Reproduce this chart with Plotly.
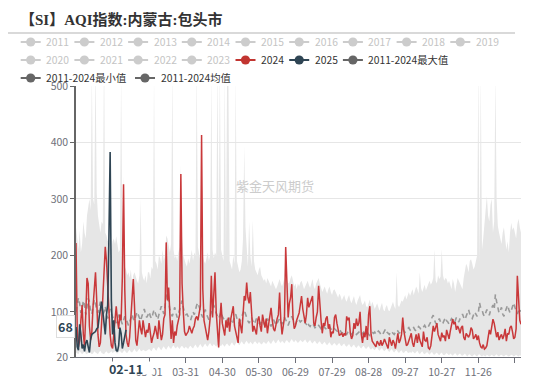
import plotly.graph_objects as go
import pandas as pd

# ---------------- data ----------------
days = pd.date_range("2024-01-01", "2024-12-31", freq="D").strftime("%m-%d").tolist()  # 366 categories

aqi_2024 = [
    222, 70, 38, 50, 85, 112, 60, 40, 95, 160, 150, 75, 50, 65, 110, 140, 170, 120, 60, 38, 45, 80, 120, 175, 215, 190, 140, 95, 60, 40, 35,
    60, 90, 110, 85, 70, 95, 85, 160, 326, 140, 60, 45, 38, 55, 85, 120, 158, 110, 50, 40, 65, 85, 70, 60, 85, 72, 55, 68, 63,
    80, 58, 45, 55, 62, 75, 60, 52, 85, 65, 50, 60, 88, 95, 223, 120, 143, 95, 52, 85, 45, 65, 58, 75, 85, 95, 344, 150, 100, 65, 58,
    62, 65, 75, 68, 62, 70, 75, 88, 92, 85, 95, 110, 413, 140, 85, 75, 60, 50, 65, 88, 164, 90, 130, 170, 100, 70, 37, 85, 116, 80,
    70, 58, 85, 72, 90, 65, 88, 98, 110, 75, 65, 50, 45, 88, 75, 62, 95, 128, 120, 152, 125, 115, 135, 90, 65, 75, 68, 60, 85, 92, 75,
    65, 95, 80, 72, 88, 62, 78, 95, 107, 85, 70, 66, 80, 88, 95, 134, 85, 60, 75, 90, 215, 130, 90, 115, 125, 149, 90, 70, 75, 85,
    90, 98, 113, 128, 105, 90, 80, 95, 125, 108, 115, 122, 128, 80, 75, 90, 100, 146, 110, 85, 62, 80, 75, 88, 92, 70, 78, 55, 65, 62, 90,
    95, 80, 65, 58, 60, 62, 56, 62, 58, 92, 85, 90, 62, 52, 58, 80, 70, 88, 75, 80, 100, 60, 45, 63, 55, 75, 50, 95, 110, 60, 48,
    45, 42, 38, 48, 45, 40, 50, 40, 45, 52, 46, 40, 35, 55, 45, 40, 50, 45, 35, 52, 62, 45, 50, 60, 90, 65, 50, 40, 42, 48,
    55, 62, 45, 38, 50, 60, 45, 62, 50, 42, 38, 65, 50, 48, 55, 36, 34, 40, 55, 75, 65, 72, 80, 60, 52, 48, 63, 55, 58, 48, 68,
    60, 52, 66, 75, 87, 78, 82, 68, 75, 70, 62, 72, 75, 55, 50, 62, 58, 55, 60, 72, 68, 52, 55, 60, 50, 58, 45, 38, 36, 42,
    34, 36, 40, 55, 68, 60, 75, 87, 80, 65, 55, 64, 50, 56, 60, 52, 58, 70, 48, 62, 60, 72, 75, 65, 52, 55, 70, 164, 110, 85, 78,
]

aqi_2025 = [
    73, 38, 32, 78, 60, 35, 42, 30, 45, 50, 38, 28, 52, 60, 62, 63, 65, 70, 72, 90, 110,
    118, 100, 80, 60, 95, 112, 230, 383, 120, 60, 85, 45, 32, 30, 40, 72, 62, 35, 45, 60, 68,
]

max_2011_2024 = [
    250, 230, 210, 245, 205, 220, 260, 240, 230, 270, 290, 300, 280, 520, 300, 290, 540, 310, 270, 250, 240, 260, 255, 560, 240, 235, 225, 230, 215, 210, 225,
    230, 220, 234, 215, 205, 210, 520, 230, 340, 180, 175, 165, 170, 160, 175, 150, 165, 170, 160, 155, 150, 165, 300, 170, 160, 155, 165, 150, 170,
    170, 160, 180, 175, 520, 190, 185, 175, 200, 195, 185, 210, 190, 200, 235, 230, 215, 205, 220, 530, 210, 195, 200, 190, 205, 215, 360, 230, 200, 190, 185,
    180, 195, 185, 200, 210, 190, 205, 200, 540, 215, 200, 190, 420, 200, 190, 185, 195, 205, 190, 200, 520, 210, 195, 205, 200, 540, 220, 530, 210, 200,
    190, 520, 200, 540, 510, 190, 180, 175, 200, 185, 520, 190, 180, 170, 175, 190, 230, 394, 250, 220, 180, 260, 200, 180, 262, 190, 175, 170, 165, 175, 180,
    165, 160, 155, 158, 150, 160, 155, 148, 145, 155, 150, 148, 140, 145, 150, 158, 150, 145, 152, 160, 220, 158, 150, 152, 160, 165, 155, 145, 150, 140,
    150, 145, 152, 155, 148, 140, 145, 150, 155, 148, 142, 150, 158, 145, 140, 150, 155, 160, 150, 140, 135, 140, 145, 138, 132, 140, 145, 135, 130, 138, 140,
    135, 130, 125, 132, 128, 120, 125, 130, 122, 118, 125, 130, 120, 115, 122, 128, 118, 112, 120, 125, 130, 118, 112, 115, 120, 110, 108, 115, 122, 110, 118,
    112, 105, 110, 115, 108, 102, 110, 116, 105, 100, 108, 112, 104, 100, 106, 112, 118, 110, 105, 170, 112, 108, 115, 120, 118, 125, 130, 122, 128, 135,
    128, 135, 140, 130, 138, 145, 140, 132, 170, 142, 135, 140, 148, 138, 145, 150, 155, 148, 152, 160, 211, 155, 150, 165, 158, 162, 211, 165, 155, 160, 158,
    150, 155, 148, 140, 158, 150, 135, 145, 160, 155, 150, 145, 140, 160, 175, 185, 180, 170, 190, 193, 185, 175, 180, 190, 200, 540, 185, 520, 210, 230,
    250, 280, 305, 270, 260, 290, 300, 240, 260, 520, 300, 252, 240, 230, 220, 240, 250, 230, 210, 225, 205, 240, 258, 245, 250, 240, 230, 255, 265, 250, 240,
]

min_2011_2024 = [
    28, 26, 25, 30, 28, 25, 27, 30, 26, 25, 28, 32, 27, 25, 26, 30, 28, 26, 25, 29, 31, 27, 26, 25, 28, 30, 27, 26, 28, 30, 27,
    28, 30, 27, 26, 29, 31, 28, 27, 30, 32, 28, 27, 30, 33, 29, 28, 31, 34, 30, 29, 32, 35, 31, 30, 33, 32, 30, 31, 33,
    34, 32, 30, 35, 37, 33, 31, 36, 38, 34, 32, 36, 39, 35, 33, 37, 40, 36, 34, 38, 41, 37, 35, 39, 36, 34, 38, 40, 37, 35, 38,
    36, 34, 38, 40, 37, 35, 39, 42, 38, 36, 40, 43, 39, 37, 41, 44, 40, 38, 42, 45, 41, 39, 43, 40, 38, 42, 34, 41, 39, 43,
    40, 38, 42, 44, 41, 39, 43, 46, 42, 40, 44, 47, 43, 41, 45, 48, 44, 42, 46, 49, 45, 43, 47, 44, 42, 46, 48, 45, 43, 47, 45,
    42, 44, 47, 45, 43, 46, 49, 45, 43, 47, 50, 46, 44, 48, 51, 47, 45, 49, 46, 44, 48, 50, 47, 45, 49, 52, 48, 46, 50, 47,
    45, 47, 50, 48, 46, 49, 51, 47, 45, 48, 50, 46, 44, 47, 49, 45, 43, 46, 48, 44, 42, 45, 47, 43, 41, 44, 46, 42, 40, 43, 45,
    42, 40, 43, 45, 41, 39, 42, 44, 40, 38, 41, 43, 39, 37, 40, 42, 38, 36, 39, 41, 37, 35, 38, 40, 36, 34, 37, 39, 35, 33, 36,
    34, 32, 35, 37, 33, 31, 34, 36, 32, 30, 33, 35, 31, 29, 32, 34, 30, 28, 31, 33, 29, 27, 30, 32, 28, 27, 30, 31, 28, 27,
    29, 27, 30, 28, 26, 29, 31, 27, 25, 28, 30, 26, 25, 27, 29, 26, 24, 27, 29, 25, 24, 26, 28, 25, 23, 26, 28, 24, 23, 25, 27,
    25, 23, 26, 24, 22, 25, 27, 24, 22, 25, 26, 23, 22, 24, 26, 23, 21, 24, 25, 22, 21, 23, 25, 22, 21, 24, 25, 22, 21, 23,
    22, 21, 24, 23, 21, 22, 24, 22, 21, 23, 25, 22, 21, 23, 24, 22, 21, 23, 24, 22, 21, 22, 24, 23, 21, 22, 24, 22, 21, 23, 22,
]

mean_2011_2024 = [
    100, 110, 125, 115, 98, 105, 120, 112, 95, 108, 124, 118, 100, 96, 110, 122, 115, 102, 98, 112, 118, 105, 95, 100, 110, 96, 88, 95, 105, 98, 90,
    92, 85, 80, 88, 95, 90, 82, 78, 85, 92, 88, 80, 76, 82, 90, 96, 88, 84, 92, 100, 95, 88, 84, 92, 98, 105, 96, 90, 94,
    100, 92, 88, 96, 104, 98, 90, 86, 95, 102, 110, 104, 96, 110, 128, 132, 115, 104, 96, 92, 100, 108, 98, 90, 96, 104, 112, 120, 108, 98, 95,
    96, 92, 88, 85, 92, 100, 95, 104, 112, 116, 108, 100, 95, 90, 98, 104, 96, 90, 86, 92, 100, 108, 112, 104, 96, 92, 88, 94, 100, 92,
    88, 84, 80, 86, 92, 88, 82, 78, 84, 90, 96, 88, 82, 80, 86, 92, 98, 104, 96, 88, 84, 80, 86, 90, 84, 78, 82, 88, 84, 80, 78,
    82, 86, 80, 76, 82, 88, 84, 78, 74, 80, 86, 82, 76, 80, 84, 88, 82, 78, 84, 90, 86, 80, 76, 82, 88, 92, 86, 80, 78, 84,
    88, 86, 82, 84, 88, 86, 80, 78, 82, 76, 74, 78, 80, 76, 72, 74, 78, 76, 72, 70, 74, 76, 72, 70, 68, 72, 74, 70, 68, 66, 70,
    68, 66, 64, 68, 66, 62, 64, 66, 62, 60, 64, 66, 62, 60, 63, 66, 64, 60, 62, 64, 60, 58, 62, 64, 60, 62, 64, 60, 58, 62, 64,
    62, 64, 60, 62, 66, 64, 60, 58, 62, 66, 70, 64, 62, 60, 64, 66, 62, 60, 64, 68, 66, 62, 64, 68, 70, 66, 64, 68, 70, 72,
    68, 66, 70, 72, 68, 66, 70, 74, 72, 68, 70, 74, 76, 72, 70, 74, 78, 82, 90, 94, 86, 80, 78, 84, 88, 82, 78, 80, 86, 90, 84,
    82, 78, 84, 88, 86, 80, 84, 90, 86, 82, 88, 92, 96, 90, 86, 92, 98, 104, 96, 90, 88, 94, 100, 96, 92, 98, 116, 106, 104, 96,
    92, 98, 104, 100, 94, 102, 108, 112, 104, 131, 118, 106, 98, 102, 108, 96, 92, 100, 106, 112, 104, 98, 102, 110, 116, 108, 100, 96, 102, 106, 100,
]

y_ticks = [20, 100, 200, 300, 400, 500]
legend_names = [str(y) for y in range(2011, 2026)] + ["2011-2024最大值", "2011-2024最小值", "2011-2024均值"]
pointer_day = "02-11"
pointer_value = "68"

for arr in (aqi_2024, max_2011_2024, min_2011_2024, mean_2011_2024):
    assert len(arr) == 366, len(arr)
assert len(aqi_2025) == 42

# ---------------- styling / layout ----------------
W, H = 550, 378
L, R, T, B = 76, 29, 86, 21
PW, PH = W - L - R, H - T - B
def fx(px): return (px - L) / PW
def fy(py): return (H - B - py) / PH

FONT = "Noto Sans CJK SC, Noto Sans, sans-serif"
RED, NAVY, GREY = "#c23531", "#2f4554", "#666666"

fig = go.Figure()
fig.add_trace(go.Scatter(x=days, y=min_2011_2024, mode="lines", line=dict(width=0, color="#e4e4e4"),
                         showlegend=False, hoverinfo="skip"))
fig.add_trace(go.Scatter(x=days, y=max_2011_2024, mode="lines", line=dict(width=0, color="#e4e4e4"),
                         fill="tonexty", fillcolor="#e6e6e6", showlegend=False, hoverinfo="skip"))
fig.add_trace(go.Scatter(x=days, y=mean_2011_2024, mode="lines",
                         line=dict(width=1.6, color="#9a9a9a", dash="5px,4px"), showlegend=False))
fig.add_trace(go.Scatter(x=days, y=aqi_2024, mode="lines", line=dict(width=1.5, color="#c9383a"), showlegend=False))
fig.add_trace(go.Scatter(x=days[:len(aqi_2025)], y=aqi_2025, mode="lines", line=dict(width=1.6, color=NAVY),
                         showlegend=False))

tick_days = days[30::30]
tick_text = ["" if d in ("01-31", "12-26") else d for d in tick_days]

shapes, annotations = [], []

# title underline
shapes.append(dict(type="line", xref="paper", yref="paper", x0=fx(8), x1=fx(515), y0=fy(33), y1=fy(33),
                   line=dict(color="#cccccc", width=1.5)))

# manual legend (echarts style)
row_y = [42, 60, 78]
positions = []
for i in range(9):
    positions.append((20.7 + 53.7 * i, row_y[0]))
for i in range(7):
    positions.append((20.7 + 53.7 * i, row_y[1]))
positions += [(20.7, row_y[2]), (135, row_y[2])]
for name, (sx, sy) in zip(legend_names, positions):
    if name == "2024":
        col, tcol = RED, "#333333"
    elif name == "2025":
        col, tcol = NAVY, "#333333"
    elif name.startswith("2011-2024"):
        col, tcol = GREY, "#333333"
    else:
        col, tcol = "#cccccc", "#c4c4c4"
    shapes.append(dict(type="line", xref="paper", yref="paper", x0=fx(sx), x1=fx(sx + 20), y0=fy(sy), y1=fy(sy),
                       line=dict(color=col, width=2)))
    cx, r = sx + 10, 4.6
    shapes.append(dict(type="circle", xref="paper", yref="paper", x0=fx(cx - r), x1=fx(cx + r),
                       y0=fy(sy + r), y1=fy(sy - r), fillcolor=col, line=dict(color=col, width=0)))
    annotations.append(dict(text=name, xref="paper", yref="paper", x=fx(sx + 23.5), y=fy(sy),
                            xanchor="left", yanchor="middle", showarrow=False,
                            font=dict(family=FONT, size=10.3, color=tcol)))

# watermark
annotations.append(dict(text="紫金天风期货", xref="paper", yref="paper", x=fx(274.5), y=fy(185),
                        showarrow=False, font=dict(family=FONT, size=13, color="#cccccc")))

# axis pointer labels
annotations.append(dict(text="<b>" + pointer_day + "</b>", xref="x", yref="paper", x=pointer_day, y=fy(368),
                        xanchor="center", yanchor="middle", showarrow=False, bgcolor="white",
                        width=54, height=12, borderpad=0,
                        font=dict(family=FONT, size=12.5, color=NAVY)))
annotations.append(dict(text="<b>" + pointer_value + "</b>", xref="paper", yref="paper", x=fx(74.5), y=fy(326),
                        xanchor="right", yanchor="middle", showarrow=False, bgcolor="white",
                        bordercolor="#dddddd", borderwidth=1, borderpad=1,
                        font=dict(family=FONT, size=12.5, color=NAVY)))

fig.update_layout(
    template="none",
    width=W, height=H,
    margin=dict(l=L, r=R, t=T, b=B, autoexpand=False),
    paper_bgcolor="white", plot_bgcolor="white",
    title=dict(text="<b>【SI】AQI指数:内蒙古:包头市</b>", x=20 / W, xref="container", xanchor="left",
               y=1 - 20 / H, yref="container", yanchor="middle",
               font=dict(family="Liberation Serif, Noto Sans CJK SC, serif", size=15, color="#333333")),
    showlegend=False,
    hovermode=False,
    shapes=shapes,
    annotations=annotations,
    xaxis=dict(type="category", range=[0, 365], tickmode="array", tickvals=tick_days, ticktext=tick_text,
               automargin=False,
               showgrid=False, showline=True, linecolor="#6e7079", linewidth=1,
               ticks="outside", ticklen=5, tickcolor="#6e7079",
               tickfont=dict(family=FONT, size=10.5, color="#6e7079"), zeroline=False),
    yaxis=dict(range=[20, 500], tickmode="array", tickvals=y_ticks, automargin=False,
               showgrid=True, gridcolor="#e6e6e6", gridwidth=1,
               showline=True, linecolor="#666666", linewidth=1.5,
               ticks="outside", ticklen=4, tickcolor="#666666",
               tickfont=dict(family=FONT, size=10.5, color="#6e7079"), zeroline=False),
)

fig.write_html("out.html", config={"displayModeBar": False},
               post_script="document.body.style.margin='0';document.body.style.overflow='hidden';")
